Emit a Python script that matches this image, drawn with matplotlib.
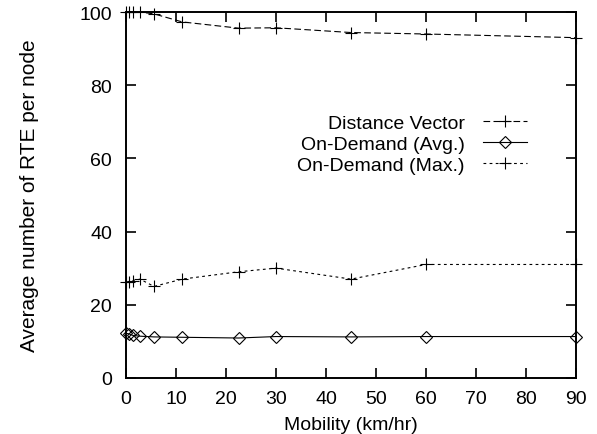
import matplotlib
matplotlib.use("Agg")
import matplotlib.pyplot as plt

plt.rcParams['font.family'] = ['Liberation Sans', 'DejaVu Sans']
plt.rcParams['font.size'] = 14

# mobility in km/hr
mobility = [0, 0.7, 1.4, 2.8, 5.6, 11.25, 22.5, 30, 45, 60, 90]

dist_vector = [100, 100, 100, 100, 99.5, 97.3, 95.6, 95.7, 94.4, 94.0, 93.0]
od_avg = [12.2, 12.0, 11.6, 11.4, 11.2, 11.1, 10.9, 11.3, 11.2, 11.3, 11.3]
od_max = [26.2, 26.3, 26.5, 27.0, 25.0, 27.0, 29.0, 30.0, 27.0, 31.0, 31.0]

fig = plt.figure(figsize=(5.97, 4.35), dpi=100)
ax = fig.add_axes([0.211, 0.129, 0.754, 0.841])

ax.plot(mobility, dist_vector, color='black', linewidth=0.8, dashes=(6, 3),
        marker='+', markersize=8, markeredgewidth=0.8, clip_on=False,
        label='Distance Vector')
ax.plot(mobility, od_avg, color='black', linewidth=0.8,
        marker='D', markersize=6.5, markerfacecolor='none', markeredgewidth=0.8,
        clip_on=False, label='On-Demand (Avg.)')
ax.plot(mobility, od_max, color='black', linewidth=0.8, dashes=(2.5, 3),
        marker='+', markersize=8, markeredgewidth=0.8, clip_on=False,
        label='On-Demand (Max.)')

ax.set_xlim(0, 90)
ax.set_ylim(0, 100)
ax.set_xticks(range(0, 91, 10))
ax.set_yticks(range(0, 101, 20))

for s in ax.spines.values():
    s.set_linewidth(1.4)
ax.tick_params(direction='in', length=7.5, width=1.2, top=True, right=True, labelsize=14)
ax.tick_params(axis='y', pad=10)
ax.tick_params(axis='x', pad=9)

ax.set_xlabel('Mobility (km/hr)', fontsize=14, labelpad=6)
ax.set_ylabel('Average number of RTE per node', fontsize=15, labelpad=29)

leg = ax.legend(markerfirst=False, frameon=False, loc='upper right',
                bbox_to_anchor=(0.891, 0.72), borderaxespad=0, borderpad=0,
                handlelength=2.27, handletextpad=0.93, labelspacing=0.16,
                fontsize=14, numpoints=1)

fig.savefig('out.png', dpi=100)
